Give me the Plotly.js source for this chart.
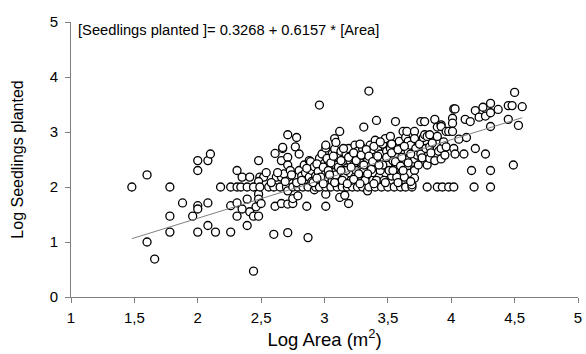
<!DOCTYPE html>
<html>
<head>
<meta charset="utf-8">
<script src="https://cdn.plot.ly/plotly-3.0.1.min.js"></script>
<style>html,body{margin:0;padding:0;background:#fff;}#chart{width:586px;height:354px;}</style>
</head>
<body>
<div id="chart"></div>
<script>
// Log Area (m2) of each site
const logArea = [
1.48,1.60,1.60,1.66,1.78,1.78,1.78,1.88,1.96,2.00,2.00,2.00,2.00,2.00,2.08,2.10,2.08,2.08,2.14,2.18,2.26,2.26,2.26,2.31,2.31,2.31,2.31,
2.35,2.39,2.39,2.41,2.44,2.46,2.48,2.48,2.48,2.50,2.44,2.35,2.41,2.48,2.49,2.52,2.48,2.34,2.39,2.44,2.49,2.56,2.60,2.54,2.60,2.61,2.61,2.62,
2.65,2.66,2.66,2.67,2.67,2.70,2.71,2.71,2.71,2.71,2.71,2.71,2.71,2.66,2.68,2.73,2.75,2.75,2.75,2.77,2.78,2.79,2.79,2.80,2.77,2.80,2.82,2.83,2.84,2.85,2.86,2.87,2.87,2.88,2.88,2.89,2.90,2.92,2.92,2.93,2.93,2.96,2.96,2.96,2.96,2.98,2.98,
3.00,3.00,3.01,3.01,3.01,3.01,3.01,3.01,3.02,3.03,3.04,3.05,3.06,3.07,3.08,3.08,3.09,3.09,3.10,3.10,3.11,3.12,3.12,3.12,3.13,3.14,3.15,3.16,3.16,3.17,3.18,3.18,3.19,3.19,3.20,3.20,3.22,3.22,3.23,3.24,3.24,3.25,3.26,3.26,3.27,3.28,3.29,3.30,3.30,3.31,3.31,3.32,3.33,3.34,3.34,3.35,3.35,3.36,3.36,3.37,3.38,3.39,3.40,3.40,3.41,3.41,3.42,3.43,3.44,3.45,3.45,3.46,3.47,3.48,3.48,3.49,3.50,3.50,3.51,3.52,3.52,3.53,3.54,3.55,3.55,3.56,3.56,3.57,3.58,3.59,3.59,3.60,3.60,3.61,3.62,3.62,3.63,3.64,3.64,3.65,3.65,3.66,3.66,3.67,3.67,3.68,3.69,3.69,3.70,3.71,3.71,3.71,3.71,3.71,3.71,3.72,3.73,3.74,
3.75,3.76,3.76,3.77,3.78,3.79,3.79,3.80,3.81,3.81,3.81,3.83,3.83,3.83,3.84,3.85,3.87,3.87,3.89,3.89,3.89,3.90,3.92,3.92,3.92,3.92,3.93,3.94,3.95,3.96,3.96,3.98,3.98,
4.01,4.01,4.01,4.02,4.03,4.02,4.02,4.03,4.06,4.10,4.11,4.12,4.15,4.16,4.18,4.19,4.19,4.22,4.25,4.27,4.27,4.31,4.31,4.31,4.31,4.31,4.37,4.45,4.48,4.45,4.49,4.50,4.53,4.56,
2.90,2.94,2.95,2.97,2.99,3.02,3.03,3.05,3.06,3.07,3.09,3.11,3.13,3.14,3.15,3.17,3.19,3.21,3.21,3.23,3.25,3.27,3.28,3.29,3.31,3.32,3.33,3.35,3.37,3.38,3.39,3.41,3.42,3.44,3.44,3.46,3.47,3.49,3.51,3.53,3.53,3.56,3.57,3.58,3.60,3.61,3.63,3.63,3.66,3.68,
2.58,2.63,2.69,2.74,2.78,2.82,2.86,2.91,2.94,2.99,3.04,3.08,3.13,3.18,3.23,3.28,3.34,3.39,3.43,3.48,3.54,3.58,3.62,3.68
];
// Log Seedlings planted at each site
const logSeedlings = [
2.00,2.22,1.00,0.69,2.00,1.47,1.18,1.71,1.47,2.48,2.30,1.66,1.60,1.18,2.48,2.60,1.71,1.30,1.18,2.00,2.00,1.66,1.18,2.00,2.30,1.71,1.47,
1.60,1.78,1.30,1.55,1.47,1.64,1.87,1.78,1.47,1.70,0.47,2.18,2.18,2.48,2.18,2.18,2.10,2.00,2.00,2.00,2.00,2.00,2.00,2.26,1.14,1.65,2.61,2.18,
2.00,1.70,2.48,2.70,2.72,2.00,1.69,1.17,1.93,2.95,2.54,2.40,2.18,2.18,2.24,2.30,2.00,1.70,1.79,2.73,2.90,1.84,2.00,2.60,2.18,2.30,2.20,2.00,2.40,2.26,1.65,1.08,2.00,2.48,2.18,2.46,2.30,1.95,2.37,2.00,2.20,2.52,2.34,3.49,2.00,2.26,2.60,
2.43,2.28,1.65,1.87,2.00,2.71,2.76,2.10,2.18,2.48,2.34,2.00,2.60,2.26,2.69,2.88,2.81,2.40,2.00,2.18,2.54,1.81,3.01,2.30,2.65,2.00,2.45,1.85,2.20,2.60,2.00,2.35,1.70,2.70,2.48,2.26,2.00,2.58,2.40,2.76,2.18,2.30,2.00,2.65,2.52,2.10,2.44,2.00,2.70,3.09,2.30,2.60,2.20,1.93,2.48,3.745,2.00,2.76,2.38,2.65,2.26,2.54,2.00,2.85,3.21,2.44,2.70,2.18,2.60,2.00,2.34,2.78,2.48,2.88,2.26,2.65,2.00,2.40,2.56,2.92,2.70,2.20,2.48,2.00,2.62,3.19,2.34,2.78,2.54,2.83,2.44,2.00,2.70,2.26,3.01,2.60,2.48,2.00,2.90,3.01,2.36,2.83,2.65,2.25,2.52,2.76,2.00,2.04,2.45,3.01,2.88,2.64,2.51,2.30,2.16,2.70,2.58,2.40,
2.78,3.19,2.60,2.53,2.90,3.19,2.95,2.70,2.00,2.40,2.92,2.95,2.73,2.52,2.62,2.80,3.23,2.48,2.92,3.09,2.00,2.65,3.13,3.10,2.70,2.51,2.00,2.82,2.58,2.73,3.01,3.01,2.00,
3.25,3.16,3.01,3.42,3.42,2.70,2.00,2.60,2.87,2.60,3.23,2.90,3.19,2.30,2.00,3.39,2.70,3.27,3.45,3.29,2.60,3.52,3.35,3.10,2.30,2.00,3.41,3.48,3.48,3.23,2.40,3.72,3.12,3.46,
2.10,2.42,2.28,2.18,2.36,2.52,2.30,2.44,2.12,2.56,2.22,2.36,2.48,2.12,2.70,2.30,2.54,2.12,2.36,2.62,2.48,2.24,2.78,2.58,2.40,2.12,2.68,2.56,2.32,2.46,2.74,2.12,2.56,2.30,2.82,2.40,2.12,2.54,2.30,2.62,2.78,2.46,2.18,2.68,2.38,2.54,2.74,2.18,2.44,2.60,
2.08,2.26,2.10,2.22,2.08,2.12,2.34,2.08,2.16,2.06,2.22,2.08,2.30,2.06,2.14,2.06,2.24,2.06,2.40,2.08,2.30,2.08,2.30,2.10
];
// Fitted line as drawn in the figure (end points)
const fitArea = [1.48, 4.56];
const fitSeedlings = [1.06, 3.26];
const equationText = "[Seedlings planted ]= 0.3268 + 0.6157 * [Area]";
const xTickVals = [1, 1.5, 2, 2.5, 3, 3.5, 4, 4.5, 5];
const xTickText = ["1", "1,5", "2", "2,5", "3", "3,5", "4", "4,5", "5"];
const yTickVals = [0, 1, 2, 3, 4, 5];

const font = "Liberation Sans, Arial, sans-serif";
const data = [
  {x: logArea, y: logSeedlings, type: 'scatter', mode: 'markers', hoverinfo: 'x+y',
   marker: {symbol: 'circle', size: 8, color: '#ffffff', line: {color: '#000000', width: 1.3}}},
  {x: fitArea, y: fitSeedlings, type: 'scatter', mode: 'lines',
   line: {color: '#808080', width: 1}}
];
const layout = {
  width: 586, height: 354,
  margin: {l: 71, r: 8, t: 22, b: 57},
  paper_bgcolor: '#ffffff', plot_bgcolor: '#ffffff',
  showlegend: false,
  font: {family: font, color: '#000000', size: 15},
  xaxis: {range: [1, 5], tickvals: xTickVals, ticktext: xTickText,
    showgrid: false, zeroline: false, showline: true, linecolor: '#808080', linewidth: 1,
    ticks: 'outside', ticklen: 5, tickcolor: '#808080', tickfont: {size: 15, color: '#000'},
    ticklabelstandoff: 2,
    title: {text: 'Log Area (m<sup>2</sup>)', font: {size: 18.5}, standoff: 5}},
  yaxis: {range: [0, 5], tickvals: yTickVals,
    showgrid: false, zeroline: false, showline: true, linecolor: '#808080', linewidth: 1,
    ticks: 'outside', ticklen: 5, tickcolor: '#808080', tickfont: {size: 15, color: '#000'},
    ticklabelstandoff: 4,
    title: {text: 'Log Seedlings planted', font: {size: 16}, standoff: 22}},
  annotations: [{text: equationText, xref: 'paper', yref: 'paper', x: 0.01, y: 0.972,
    xanchor: 'left', yanchor: 'middle', showarrow: false, font: {size: 14.7, color: '#000'}}]
};
Plotly.newPlot('chart', data, layout, {displayModeBar: false, staticPlot: true});
</script>
</body>
</html>
